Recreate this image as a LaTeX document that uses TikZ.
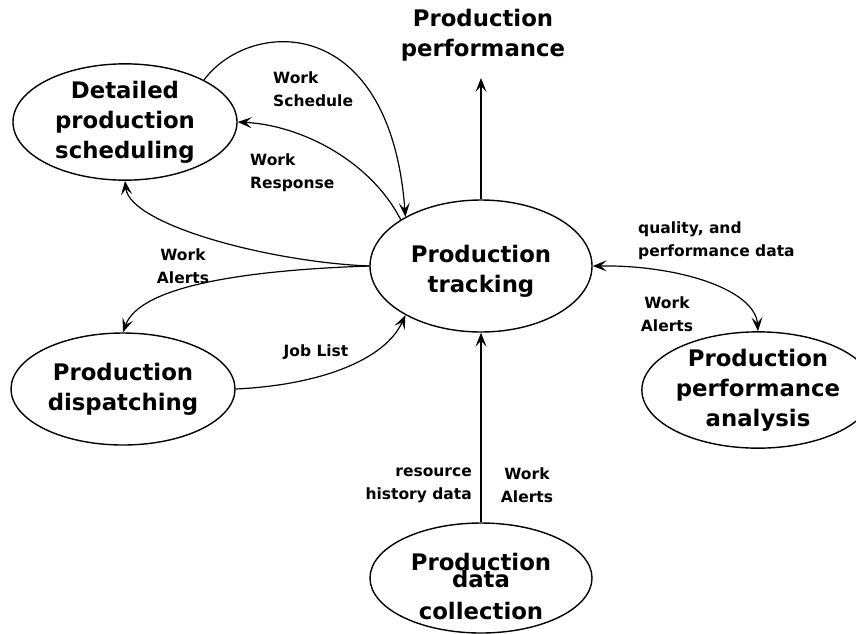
\documentclass[tikz,border=0pt]{standalone}
\usepackage{fontspec}
\setmainfont{DejaVu Sans}
\usetikzlibrary{shapes.geometric,arrows.meta}
\begin{document}
\begin{tikzpicture}[x=1pt,y=-1pt,
  proc/.style={ellipse,draw,line width=1.4pt,inner sep=0pt,align=center,
    font=\bfseries\fontsize{22.8}{30}\selectfont},
  bigtext/.style={align=center,inner sep=0pt,font=\bfseries\fontsize{22.8}{30}\selectfont},
  lbl/.style={inner sep=0pt,font=\bfseries\fontsize{15.5}{23}\selectfont},
  tip/.tip={Stealth[length=14pt,width=11pt,inset=6pt]},
  flow/.style={line width=1.2pt,-tip},
  both/.style={line width=1.2pt,tip-tip}]
\useasboundingbox (0,0) rectangle (856,633);
\clip (0,0) rectangle (856,633);

% processes
\node[proc,minimum width=224pt,minimum height=110pt] (det) at (125,122)
  {Detailed\\production\\scheduling};
\node[proc,minimum width=222pt,minimum height=132pt] (trk) at (481,266)
  {\rule{0pt}{28pt}Production\\tracking};
\node[proc,minimum width=224pt,minimum height=112pt] (dis) at (123,389)
  {Production\\dispatching};
\node[proc,minimum width=226pt,minimum height=110pt] (ana) at (758,390)
  {Production\\performance\\analysis};
\node[proc,minimum width=222pt,minimum height=110pt] (col) at (481,578) {};
\node[bigtext] (coltext) at (481,586)
  {Production\\[-13pt]data\\[2pt]collection};

% output
\node[bigtext] (out) at (483,35) {Production\\performance};
\coordinate (outin) at (481,78);

% connectors
\draw[flow] (trk.north) -- (outin);
\draw[flow] (col.north) -- (trk.south);
\draw[flow] (det.28) .. controls (250,18) and (390,12) .. (trk.147);
\draw[flow] (trk.150) .. controls (370,160) and (300,125) .. (det.east);
\draw[flow] (trk.west) .. controls (270,262) and (130,225) .. (det.south);
\draw[flow] (trk.west) .. controls (250,270) and (140,285) .. (dis.north);
\draw[flow] (dis.east) .. controls (320,385) and (385,360) .. (trk.213);
\draw[both] (trk.east) .. controls (680,265) and (755,290) .. (ana.north);

% labels
\node[lbl,anchor=west,align=left] (lsch) at (273,89) {Work\\Schedule};
\node[lbl,anchor=west,align=left] (lres) at (250,173) {Work\\Response};
\node[lbl,align=center] (lal1) at (183,266) {Work\\Alerts};
\node[lbl] (ljob) at (316,352) {Job List};
\node[lbl,anchor=east,align=right] (lres2) at (472,485) {resource\\history data};
\node[lbl,align=center] (lal2) at (527,485) {Work\\Alerts};
\node[lbl,anchor=west,align=left] (lqual) at (638,241) {quality, and\\performance data};
\node[lbl,align=center] (lal3) at (667,314) {Work\\Alerts};
\end{tikzpicture}
\end{document}
